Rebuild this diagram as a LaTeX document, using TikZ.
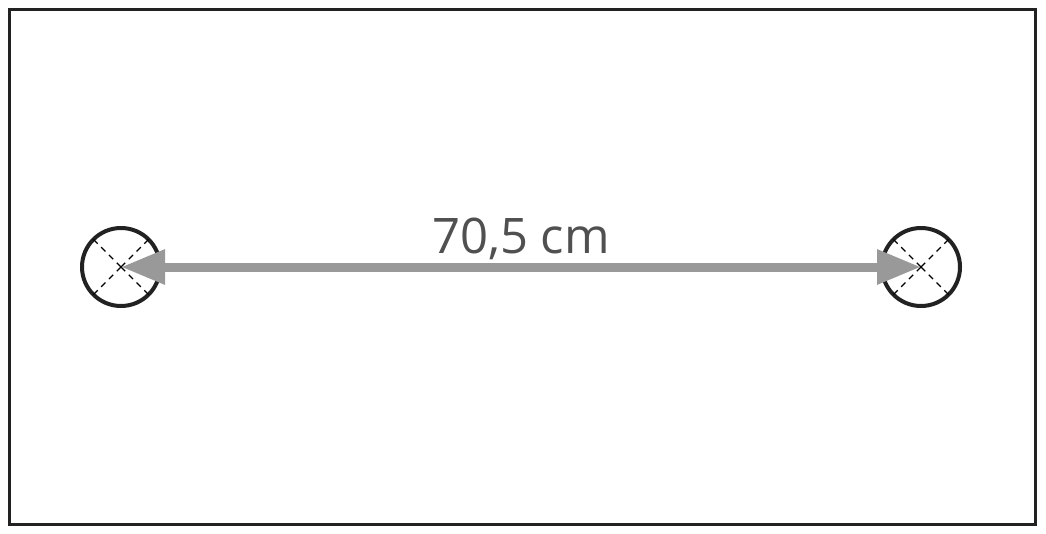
\documentclass[tikz,border=0pt]{standalone}
\usepackage{fontspec}
\setmainfont{Open Sans}
\usetikzlibrary{arrows.meta}
\definecolor{framec}{HTML}{222222}
\definecolor{arrowc}{HTML}{999999}
\definecolor{textc}{HTML}{505050}
\tikzset{
  frame/.style={draw=framec, line width=3pt},
  hole/.style={circle, draw=framec, line width=4pt, minimum size=78pt, inner sep=0pt},
  crossline/.style={draw=black, line width=1.3pt, dash pattern=on 6pt off 5pt},
  dimarrow/.style={draw=arrowc, line width=9pt, {Triangle[length=44pt,width=33pt]}-{Triangle[length=44pt,width=33pt]}},
  label/.style={text=textc, font=\fontsize{49}{55}\selectfont, inner sep=0pt, anchor=base}
}
\begin{document}
\begin{tikzpicture}[x=1pt,y=-1pt]
\useasboundingbox (0,0) rectangle (1046,533);
\draw[frame] (9,9) rectangle (1035,524);
\node[hole] (L) at (121,267) {};
\node[hole] (R) at (921,267) {};
\foreach \n in {L,R}{
  \draw[crossline] (\n.center) -- (\n.45);
  \draw[crossline] (\n.center) -- (\n.135);
  \draw[crossline] (\n.center) -- (\n.225);
  \draw[crossline] (\n.center) -- (\n.315);
}
\draw[dimarrow] (L.center) -- (R.center);
\node[label] (t) at (521,253) {70,5 cm};
\end{tikzpicture}
\end{document}
